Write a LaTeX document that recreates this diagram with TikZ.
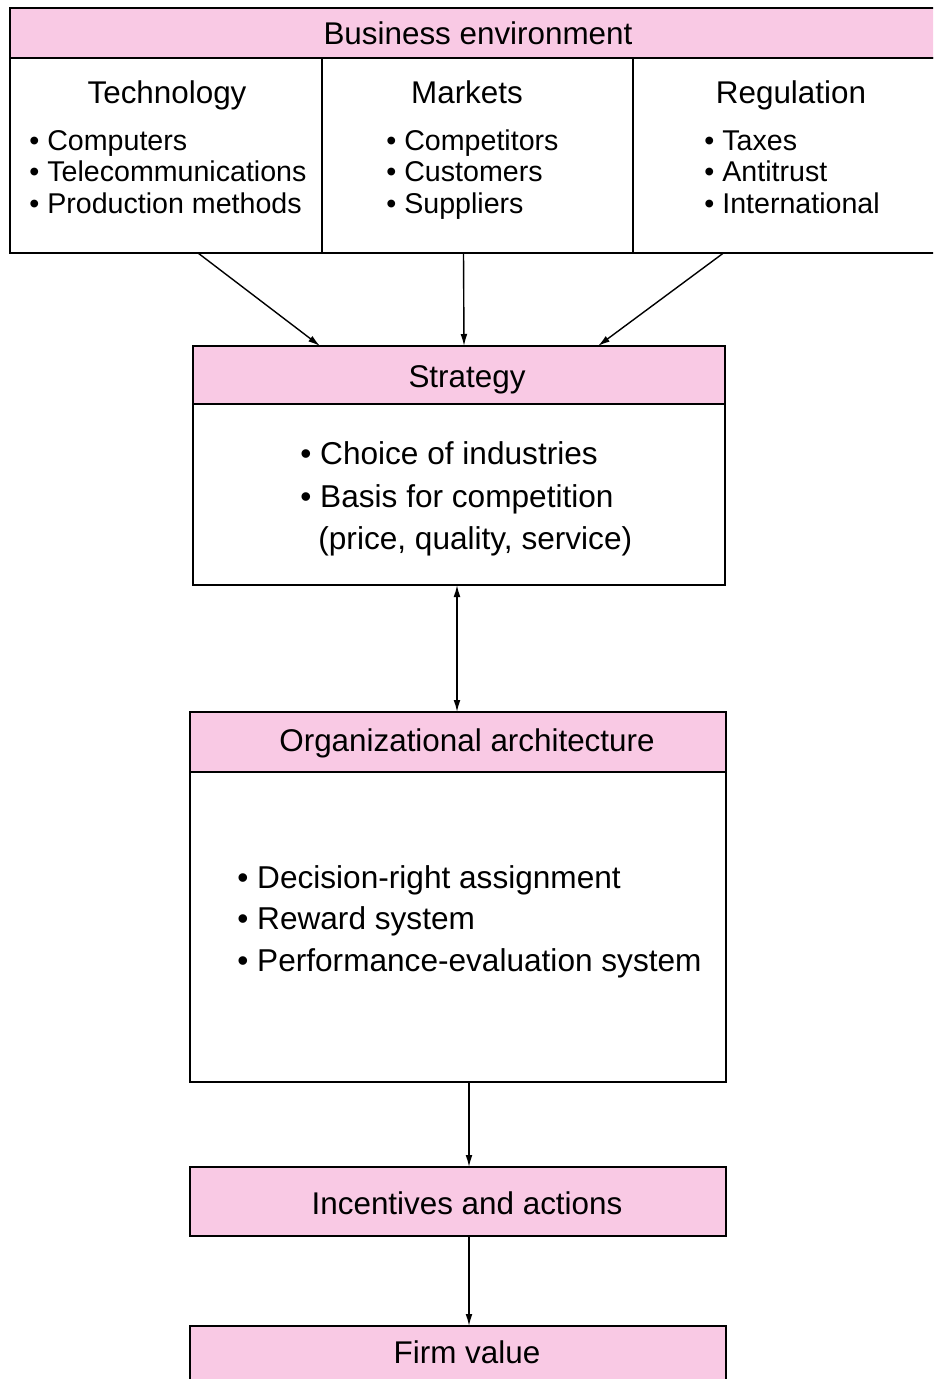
\documentclass[tikz,border=0pt]{standalone}
\usepackage{fontspec}
\setmainfont{Liberation Sans}
\usetikzlibrary{arrows.meta,calc}
\definecolor{boxpink}{RGB}{249,201,228}
\begin{document}
\begin{tikzpicture}[x=0.5pt,y=-0.5pt,
  frame/.style={draw=black,line width=0.9pt,inner sep=0pt,outer sep=0pt},
  pinkbox/.style={frame,fill=boxpink},
  whitebox/.style={frame,fill=white},
  ttl/.style={font=\fontsize{15.7pt}{18pt}\selectfont,anchor=base,inner sep=0pt},
  big/.style={font=\fontsize{15.8pt}{18pt}\selectfont,anchor=base west,inner sep=0pt},
  small/.style={font=\fontsize{14.3pt}{16pt}\selectfont,anchor=base west,inner sep=0pt},
  arr/.style={line width=0.7pt,-{Latex[length=6pt,width=3.4pt]}},
  darr/.style={line width=0.7pt,{Latex[length=6pt,width=3.4pt]}-{Latex[length=6pt,width=3.4pt]}}]
\useasboundingbox (0,0) rectangle (933,1379);
\clip (0,0) rectangle (933,1379);
% Business environment
\node[pinkbox,minimum width=470pt,minimum height=25pt] (benv) at (480,33) {};
\node[whitebox,minimum width=156pt,minimum height=97.5pt] (tech) at (166,155.5) {};
\node[whitebox,minimum width=155.5pt,minimum height=97.5pt] (mkt) at (477.5,155.5) {};
\node[whitebox,minimum width=158.5pt,minimum height=97.5pt] (reg) at (791.5,155.5) {};
\node[ttl] (benvt) at (478,45) {Business environment};
\node[ttl] (techt) at (167,104) {Technology};
\node[ttl] (mktt) at (467,104) {Markets};
\node[ttl] (regt) at (791,104) {Regulation};
\node[small] (t1) at (29,151) {• Computers};
\node[small] (t2) at (29,182) {• Telecommunications};
\node[small] (t3) at (29,214) {• Production methods};
\node[small] (m1) at (386,151) {• Competitors};
\node[small] (m2) at (386,182) {• Customers};
\node[small] (m3) at (386,214) {• Suppliers};
\node[small] (r1) at (704,151) {• Taxes};
\node[small] (r2) at (704,182) {• Antitrust};
\node[small] (r3) at (704,214) {• International};
% Strategy
\node[pinkbox,minimum width=266pt,minimum height=29pt] (strh) at (459,375) {};
\node[whitebox,minimum width=266pt,minimum height=90.5pt] (strb) at (459,494.5) {};
\node[ttl] (strt) at (467,387) {Strategy};
\node[big] (s1) at (300,465) {• Choice of industries};
\node[big] (s2) at (300,507) {• Basis for competition};
\node[big] (s3) at (318,549) {(price, quality, service)};
% Organizational architecture
\node[pinkbox,minimum width=268pt,minimum height=30pt] (orgh) at (458,742) {};
\node[whitebox,minimum width=268pt,minimum height=155pt] (orgb) at (458,927) {};
\node[ttl] (orgt) at (467,751) {Organizational architecture};
\node[big] (o1) at (237,888) {• Decision-right assignment};
\node[big] (o2) at (237,929) {• Reward system};
\node[big] (o3) at (237,971) {• Performance-evaluation system};
% Incentives and actions
\node[pinkbox,minimum width=268pt,minimum height=34.5pt] (inc) at (458,1201.5) {};
\node[ttl] (inct) at (467,1214) {Incentives and actions};
% Firm value
\node[pinkbox,minimum width=268pt,minimum height=37pt] (firm) at (458,1363) {};
\node[ttl] (firmt) at (467,1363) {Firm value};
% Connectors
\coordinate (a1s) at ($(tech.south)+(32,0)$);
\coordinate (a1e) at ($(strh.north)+(-139,0)$);
\coordinate (a2s) at ($(mkt.south)+(-14,0)$);
\coordinate (a2e) at ($(strh.north)+(5,0)$);
\coordinate (a3s) at ($(reg.south)+(-68,0)$);
\coordinate (a3e) at ($(strh.north)+(139,0)$);
\draw[arr] (a1s) -- (a1e);
\draw[arr] (a2s) -- (a2e);
\draw[arr] (a3s) -- (a3e);
\coordinate (d1) at ($(strb.south)+(-2,0)$);
\coordinate (d2) at ($(orgh.north)+(-1,0)$);
\draw[darr] (d1) -- (d2);
\coordinate (b1) at ($(orgb.south)+(11,0)$);
\coordinate (b2) at ($(inc.north)+(11,0)$);
\draw[arr] (b1) -- (b2);
\coordinate (c1) at ($(inc.south)+(11,0)$);
\coordinate (c2) at ($(firm.north)+(11,0)$);
\draw[arr] (c1) -- (c2);
\end{tikzpicture}
\end{document}
